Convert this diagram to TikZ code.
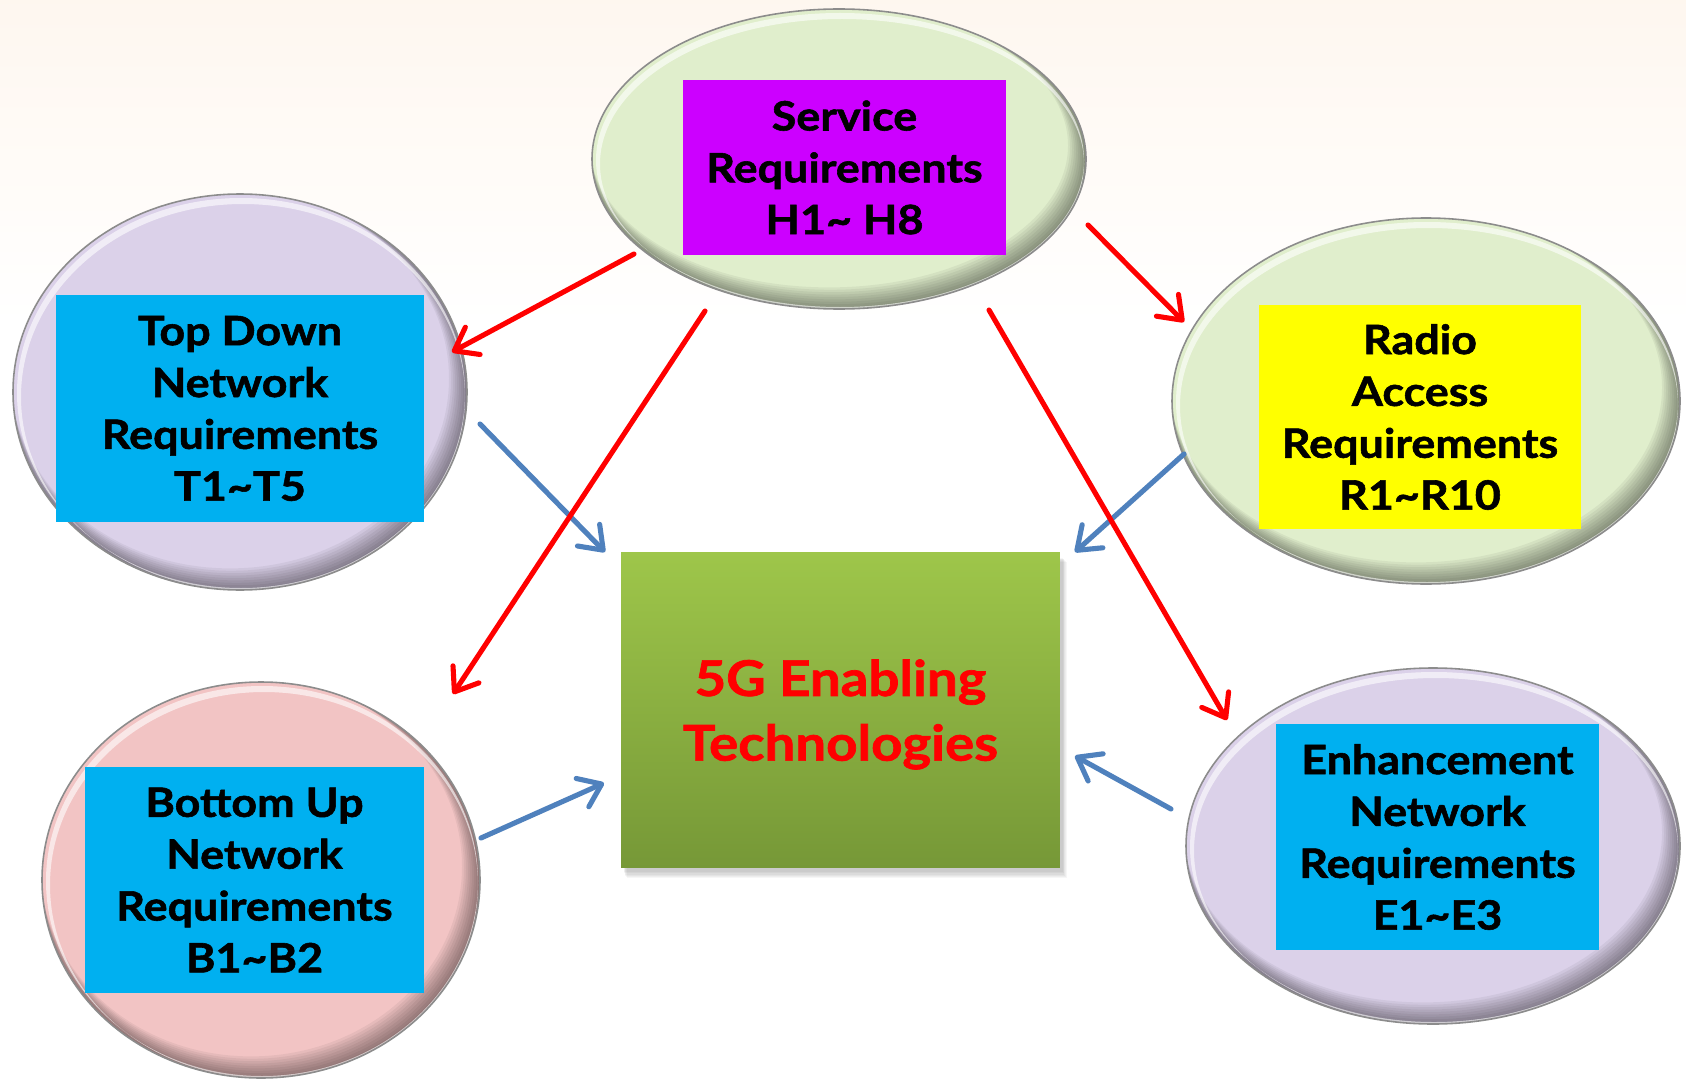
\documentclass[tikz,border=0pt]{standalone}
\usepackage{fontspec}
\setmainfont{Lato}[BoldFeatures={FakeStretch=1.11, FakeBold=1.4}]
\usetikzlibrary{shapes.geometric,arrows.meta,calc}

\definecolor{bgtop}{RGB}{252,231,210}
\definecolor{bgupper}{RGB}{254,243,232}
\definecolor{bgbot}{RGB}{251,239,226}
\definecolor{greenell}{RGB}{224,238,204}
\definecolor{lavender}{RGB}{219,209,233}
\definecolor{pinkell}{RGB}{242,196,196}
\definecolor{violet}{RGB}{204,0,255}
\definecolor{cyanbox}{RGB}{0,176,240}
\definecolor{yellowbox}{RGB}{255,255,0}
\definecolor{coretop}{RGB}{158,198,74}
\definecolor{corebot}{RGB}{118,152,55}
\definecolor{redarrow}{RGB}{255,0,0}
\definecolor{bluearrow}{RGB}{79,129,189}

\pgfdeclareverticalshading{pagebg}{100bp}{color(0bp)=(bgbot); color(16bp)=(white); color(60bp)=(white); color(82bp)=(bgupper); color(100bp)=(bgtop)}

\newcommand\reqfont{\fontsize{23}{29.5}\selectfont\bfseries}
\newcommand\corefont{\fontsize{28}{36.8}\selectfont\bfseries}

\tikzset{
  reqbox/.style={inner sep=0, align=center, font=\reqfont, text=black},
  corebox/.style={inner sep=0, align=center, font=\corefont, text=redarrow,
    text depth=0pt, top color=coretop, bottom color=corebot},
  redlink/.style={draw=redarrow, line width=2.9pt, line cap=round,
    -{Straight Barb[length=0.42cm, width=0.62cm, round]}},
  bluelink/.style={draw=bluearrow, line width=2.9pt, line cap=round,
    -{Straight Barb[length=0.42cm, width=0.62cm, round]}},
}

% bevelled ellipse: name, cx, cy, rx, ry, colour (all in px units)
\newcommand\bevelled[6]{%
  \node[ellipse, fill=#6, minimum width={2*#4*0.02cm}, minimum height={2*#5*0.02cm}, inner sep=0] (#1) at (#2,#3) {};
  \begin{scope}
    \clip (#2,#3) ellipse [x radius=#4, y radius=#5];
    \foreach \k in {1,...,9}{
      \fill[black, opacity=0.05, even odd rule]
        (#2,#3) ellipse [x radius=#4+6, y radius=#5+6]
        (#2-\k*1.1,#3-\k*1.5) ellipse [x radius=#4-\k*0.9, y radius=#5-\k*0.9];
    }
    \fill[white, opacity=0.6, even odd rule]
      (#2+1,#3+1) ellipse [x radius=#4-3, y radius=#5-3]
      (#2+3,#3+5) ellipse [x radius=#4-5, y radius=#5-5];
  \end{scope}
  \draw[black!45, line width=0.9pt] (#2,#3) ellipse [x radius=#4, y radius=#5];
}

\begin{document}
\begin{tikzpicture}[x=0.02cm, y=-0.02cm]
  \useasboundingbox (0,0) rectangle (1686,1081);
  \shade[shading=pagebg] (0,0) rectangle (1686,1081);

  % outer requirement groups
  \bevelled{svcE}{839}{159}{247}{150}{greenell}
  \bevelled{tdE}{240}{392}{227}{198}{lavender}
  \bevelled{raE}{1426}{401}{254}{183}{greenell}
  \bevelled{buE}{261}{880}{219}{198}{pinkell}
  \bevelled{enE}{1433}{846}{247}{178}{lavender}

  \node[reqbox, fill=violet, minimum width=6.46cm, minimum height=3.5cm] (svc) at (844.5,167.5)
    {Service\\Requirements\\H1\textasciitilde\ H8};
  \node[reqbox, fill=cyanbox, minimum width=7.36cm, minimum height=4.54cm] (td) at (240,408.5)
    {Top Down\\Network\\Requirements\\T1\textasciitilde T5};
  \node[reqbox, fill=yellowbox, minimum width=6.44cm, minimum height=4.48cm] (ra) at (1420,417)
    {Radio\\Access\\Requirements\\R1\textasciitilde R10};
  \node[reqbox, fill=cyanbox, minimum width=6.78cm, minimum height=4.52cm] (bu) at (254.5,880)
    {Bottom Up\\Network\\Requirements\\B1\textasciitilde B2};
  \node[reqbox, fill=cyanbox, minimum width=6.46cm, minimum height=4.52cm] (en) at (1437.5,837)
    {Enhancement\\Network\\Requirements\\E1\textasciitilde E3};

  % central box with soft shadow
  \foreach \k in {1,...,6}{
    \fill[black, opacity=0.035] (621+2+\k*0.6,552+5+\k*0.8) rectangle (1060+2+\k*0.8,868+3+\k*1.2);
  }
  \node[corebox, minimum width=8.78cm, minimum height=6.32cm] (core) at (840.5,710)
    {5G Enabling\\Technologies};

  % connector end points
  \coordinate (r1s) at (634,254);  \coordinate (r1e) at (452,352);
  \coordinate (r2s) at (705,311);  \coordinate (r2e) at (453,694);
  \coordinate (r3s) at (1088,225); \coordinate (r3e) at (1184,322);
  \coordinate (r4s) at (989,310);  \coordinate (r4e) at (1227,720);
  \coordinate (b1s) at (480,424);  \coordinate (b1e) at (605,552);
  \coordinate (b2s) at (1184,454); \coordinate (b2e) at (1075,552);
  \coordinate (b3s) at (481,838);  \coordinate (b3e) at (604,783);
  \coordinate (b4s) at (1171,809); \coordinate (b4e) at (1075,756);

  \draw[bluelink] (b1s) -- (b1e);
  \draw[bluelink] (b2s) -- (b2e);
  \draw[bluelink] (b3s) -- (b3e);
  \draw[bluelink] (b4s) -- (b4e);
  \draw[redlink] (r1s) -- (r1e);
  \draw[redlink] (r2s) -- (r2e);
  \draw[redlink] (r3s) -- (r3e);
  \draw[redlink] (r4s) -- (r4e);
\end{tikzpicture}
\end{document}
